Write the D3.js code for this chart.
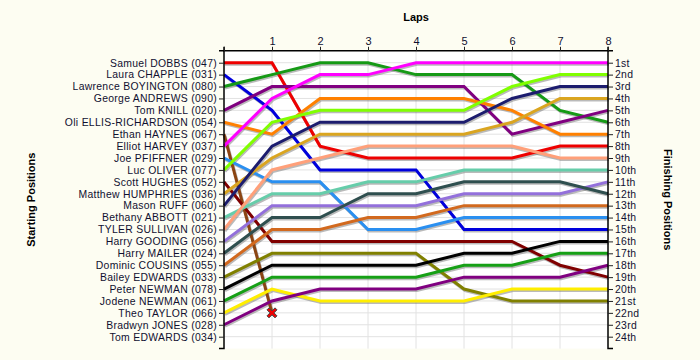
<!DOCTYPE html>
<html><head><meta charset="utf-8">
<script src="https://cdn.jsdelivr.net/npm/d3@7"></script>
<style>body{margin:0;background:#fdfdf2;}svg{display:block;}text{font-family:"Liberation Sans",Arial,sans-serif;}</style>
</head><body><svg id="c" width="700" height="360"></svg>
<script>
const starters = ["Samuel DOBBS (047)","Laura CHAPPLE (031)","Lawrence BOYINGTON (080)","George ANDREWS (090)","Tom KNILL (020)","Oli ELLIS-RICHARDSON (054)","Ethan HAYNES (067)","Elliot HARVEY (037)","Joe PFIFFNER (029)","Luc OLIVER (077)","Scott HUGHES (052)","Matthew HUMPHRIES (036)","Mason RUFF (060)","Bethany ABBOTT (021)","TYLER SULLIVAN (026)","Harry GOODING (056)","Harry MAILER (024)","Dominic COUSINS (055)","Bailey EDWARDS (033)","Peter NEWMAN (078)","Jodene NEWMAN (061)","Theo TAYLOR (066)","Bradwyn JONES (028)","Tom EDWARDS (034)"];
const laps = [0,1,2,3,4,5,6,7,8];
const lapLabels = ["","1","2","3","4","5","6","7","8"];
const finishLabels = ["1st","2nd","3rd","4th","5th","6th","7th","8th","9th","10th","11th","12th","13th","14th","15th","16th","17th","18th","19th","20th","21st","22nd","23rd","24th"];
// race position at each lap (lap 0 = grid), null = did not start
const racePositions = [
  [1,1,8,9,9,9,9,8,8],
  [2,5,10,10,10,15,15,15,15],
  [3,2,1,1,2,2,2,5,6],
  null,
  [5,3,3,3,3,3,7,6,5],
  [6,7,4,4,4,4,5,7,7],
  [7,22],
  [8,4,2,2,1,1,1,1,1],
  [9,11,11,15,15,14,14,14,14],
  [10,6,5,5,5,5,3,2,2],
  [11,16,16,16,16,16,16,18,19],
  [12,9,7,7,7,7,6,4,4],
  [13,8,6,6,6,6,4,3,3],
  [14,12,12,11,11,10,10,10,10],
  [15,10,9,8,8,8,8,9,9],
  [16,13,13,13,13,12,12,12,11],
  [17,14,14,12,12,11,11,11,12],
  [18,15,15,14,14,13,13,13,13],
  [19,17,17,17,17,20,21,21,21],
  [20,18,18,18,18,17,17,16,16],
  [21,19,19,19,19,18,18,17,17],
  [22,20,21,21,21,21,20,20,20],
  [23,21,20,20,20,19,19,19,18],
  null
];
const lineColors = ["#ee0000","#0000dd","#169a16","#800080","#800080","#ff8000","#8b4513","#ff00ff","#2a8ff0","#80ff00","#800000","#daa520","#1c1c6e","#66cdaa","#ffa07a","#9370db","#2f4f4f","#d2691e","#808000","#000000","#16a016","#ffee00","#800080","#888888"];
const retired = [{driver:6, lap:1, pos:22}];

const svg = d3.select("#c");
const L=224, R=608, T=50.8, B=348.6;
const x = d3.scaleLinear().domain([0,8]).range([L,R]);
const y = d3.scaleLinear().domain([0,25]).range([T,B]);
const txt = "#101030";
const fs = 10.4, ls = "0.3px";

svg.append("rect").attr("x",L).attr("y",T).attr("width",R-L).attr("height",B-T).attr("fill","#ffffff");
// grid
const g = svg.append("g");
g.selectAll("line.h").data(d3.range(1,25)).join("line")
  .attr("x1",L).attr("x2",R).attr("y1",d=>y(d)).attr("y2",d=>y(d))
  .attr("stroke","#e2e2e2").attr("stroke-width",1);
g.selectAll("line.v").data(laps.slice(1,8)).join("line")
  .attr("y1",T).attr("y2",B).attr("x1",d=>x(d)).attr("x2",d=>x(d))
  .attr("stroke","#e2e2e2").attr("stroke-width",1);

const line = d3.line().x((d,i)=>x(i)).y(d=>y(d));
const series = racePositions.map((p,i)=>({p,i})).filter(d=>d.p);
// shadows
svg.append("g").selectAll("path").data(series).join("path")
  .attr("d",d=>line(d.p)).attr("fill","none").attr("stroke","#666").attr("stroke-opacity",0.45)
  .attr("stroke-width",3).attr("transform","translate(1,1.5)").attr("stroke-linejoin","miter");
svg.append("g").selectAll("path").data(series).join("path")
  .attr("d",d=>line(d.p)).attr("fill","none").attr("stroke",d=>lineColors[d.i])
  .attr("stroke-width",3).attr("stroke-linejoin","miter");

// retired marker
const xm = svg.append("g").selectAll("g").data(retired).join("g")
  .attr("transform",d=>`translate(${x(d.lap)},${y(d.pos)})`);
const xp = "M-5,-3 L-3,-5 L0,-2 L3,-5 L5,-3 L2,0 L5,3 L3,5 L0,2 L-3,5 L-5,3 L-2,0 Z";
xm.append("path").attr("d",xp).attr("fill","#ee0000").attr("stroke","#444").attr("stroke-width",1);

// axes
const la = svg.append("g").attr("transform",`translate(${L},0)`)
  .call(d3.axisLeft(y).tickValues(d3.range(1,25)).tickFormat(d=>starters[d-1]).tickSize(5).tickPadding(2));
la.select(".domain").attr("d",`M-5,${T}H0V${B}H-5`).attr("stroke","#000").attr("stroke-width",1.5);
la.selectAll("text").attr("font-size",fs).attr("letter-spacing",ls).attr("fill",txt);
la.selectAll(".tick line").attr("stroke","#222");

const ra = svg.append("g").attr("transform",`translate(${R},0)`)
  .call(d3.axisRight(y).tickValues(d3.range(1,25)).tickFormat(d=>finishLabels[d-1]).tickSize(5).tickPadding(2));
ra.select(".domain").attr("d",`M5,${T}H0V${B}H5`).attr("stroke","#000").attr("stroke-width",1.5);
ra.selectAll("text").attr("font-size",fs).attr("letter-spacing",ls).attr("fill",txt);
ra.selectAll(".tick line").attr("stroke","#222");

const ta = svg.append("g").attr("transform",`translate(0,${T})`)
  .call(d3.axisTop(x).tickValues(laps).tickFormat(d=>lapLabels[d]).tickSize(4).tickPadding(2));
ta.select(".domain").attr("d",`M${L},-4V0H${R}V-4`).attr("stroke","#000").attr("stroke-width",1.5);
ta.selectAll("text").attr("font-size",11).attr("fill",txt);
ta.selectAll(".tick line").attr("stroke","#222");

svg.append("text").attr("x",(L+R)/2).attr("y",21).attr("text-anchor","middle")
  .attr("font-size",11).attr("font-weight","bold").attr("fill","#000").text("Laps");
svg.append("text").attr("transform",`translate(35,${(T+B)/2}) rotate(-90)`).attr("text-anchor","middle")
  .attr("font-size",11).attr("font-weight","bold").attr("fill","#000").text("Starting Positions");
svg.append("text").attr("transform",`translate(664,${(T+B)/2}) rotate(90)`).attr("text-anchor","middle")
  .attr("font-size",11).attr("font-weight","bold").attr("fill","#000").text("Finishing Positions");
</script></body></html>
